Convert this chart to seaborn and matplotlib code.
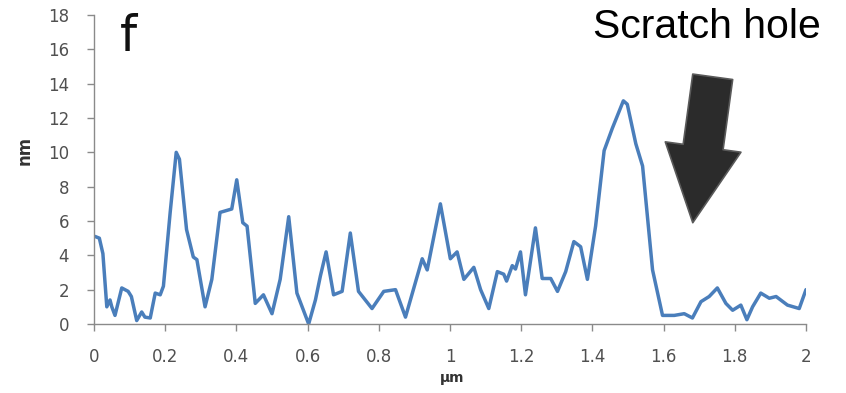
import matplotlib
matplotlib.use("Agg")
import matplotlib.pyplot as plt
import seaborn as sns
import pandas as pd

# Height profile along the scan line
position_um = [0.003, 0.015, 0.025, 0.036, 0.045, 0.05, 0.059, 0.078, 0.096, 0.105,
               0.12, 0.134, 0.143, 0.158, 0.172, 0.186, 0.195, 0.214, 0.231, 0.24,
               0.26, 0.279, 0.289, 0.312, 0.331, 0.354, 0.387, 0.401, 0.418, 0.43,
               0.453, 0.476, 0.5, 0.523, 0.547, 0.57, 0.603, 0.622, 0.636, 0.652,
               0.673, 0.697, 0.72, 0.743, 0.781, 0.814, 0.847, 0.875, 0.922, 0.936,
               0.973, 1.001, 1.02, 1.039, 1.067, 1.086, 1.109, 1.133, 1.151, 1.159,
               1.175, 1.184, 1.198, 1.212, 1.24, 1.259, 1.283, 1.302, 1.325, 1.348,
               1.367, 1.386, 1.409, 1.433, 1.456, 1.487, 1.498, 1.522, 1.541, 1.569,
               1.597, 1.63, 1.658, 1.681, 1.705, 1.728, 1.751, 1.775, 1.794, 1.817,
               1.834, 1.85, 1.873, 1.897, 1.916, 1.948, 1.981, 2.0]
height_nm = [5.1, 5.0, 4.1, 1.0, 1.4, 1.0, 0.5, 2.1, 1.9, 1.6,
             0.2, 0.7, 0.4, 0.35, 1.8, 1.7, 2.2, 6.5, 10.0, 9.6,
             5.5, 3.9, 3.75, 1.0, 2.6, 6.5, 6.7, 8.4, 5.9, 5.7,
             1.2, 1.7, 0.6, 2.6, 6.25, 1.8, 0.0, 1.4, 2.8, 4.2,
             1.7, 1.9, 5.3, 1.9, 0.9, 1.9, 2.0, 0.4, 3.8, 3.15,
             7.0, 3.8, 4.2, 2.6, 3.3, 2.0, 0.9, 3.05, 2.9, 2.5,
             3.4, 3.2, 4.2, 1.7, 5.6, 2.65, 2.65, 1.9, 3.05, 4.8,
             4.5, 2.6, 5.7, 10.1, 11.4, 13.0, 12.8, 10.5, 9.2, 3.15,
             0.5, 0.5, 0.6, 0.35, 1.3, 1.6, 2.1, 1.2, 0.8, 1.1,
             0.25, 1.0, 1.8, 1.5, 1.6, 1.1, 0.9, 2.0]

x_ticks = [0, 0.2, 0.4, 0.6, 0.8, 1.0, 1.2, 1.4, 1.6, 1.8, 2.0]
x_tick_labels = ["0", "0.2", "0.4", "0.6", "0.8", "1", "1.2", "1.4", "1.6", "1.8", "2"]
y_ticks = [0, 2, 4, 6, 8, 10, 12, 14, 16, 18]

# Tip and tail of the marker pointing at the scratch
arrow_tip = (1.682, 5.9)
arrow_tail = (1.738, 14.4)

sns.set_style("white")
plt.rcParams["font.family"] = ["DejaVu Sans"]

df = pd.DataFrame({"um": position_um, "nm": height_nm})

fig = plt.figure(figsize=(8.46, 3.93), dpi=100)
ax = fig.add_axes([0.1111, 0.1756, 0.8416, 0.7862])

sns.lineplot(data=df, x="um", y="nm", ax=ax, color="#4a7ebb", linewidth=2.5,
             estimator=None, sort=False)
for ln in ax.lines:
    ln.set_solid_joinstyle("round")
    ln.set_solid_capstyle("round")

ax.set_xlim(0, 2)
ax.set_ylim(0, 18)
ax.set_xticks(x_ticks)
ax.set_xticklabels(x_tick_labels)
ax.set_yticks(y_ticks)

for side in ("top", "right"):
    ax.spines[side].set_visible(False)
for side in ("left", "bottom"):
    ax.spines[side].set_color("#8a8a8a")
    ax.spines[side].set_linewidth(1.0)

ax.tick_params(axis="both", which="major", direction="out", length=5, width=1.0,
               color="#8a8a8a", labelsize=12, labelcolor="#505050",
               bottom=True, left=True)
ax.tick_params(axis="y", pad=13)
ax.tick_params(axis="x", pad=12)

ax.set_xlabel("µm", fontsize=10, color="#333333", fontweight="bold")
ax.xaxis.label.set_va("center")
ax.xaxis.set_label_coords(0.503, -0.175)
ax.set_ylabel("nm", fontsize=12, color="#333333", fontweight="bold")
ax.yaxis.label.set_va("center")
ax.yaxis.set_label_coords(-0.097, 0.563)

ax.text(0.037, 1.005, "f", transform=ax.transAxes, fontsize=35,
        family=["DejaVu Sans"], color="#111111", va="top", ha="left")

fig.text(0.8357, 0.903, "Scratch hole", fontsize=29.5,
         family=["Liberation Sans", "DejaVu Sans"], color="black",
         ha="center", va="baseline")

ax.annotate("", xy=arrow_tip, xytext=arrow_tail,
            arrowprops=dict(arrowstyle="simple,head_length=0.55,head_width=0.55,tail_width=0.29",
                            mutation_scale=100, facecolor="#2b2b2b", edgecolor="#5a5a5a",
                            linewidth=1.2, shrinkA=0, shrinkB=0))

fig.savefig("out.png", dpi=100, facecolor="white")
